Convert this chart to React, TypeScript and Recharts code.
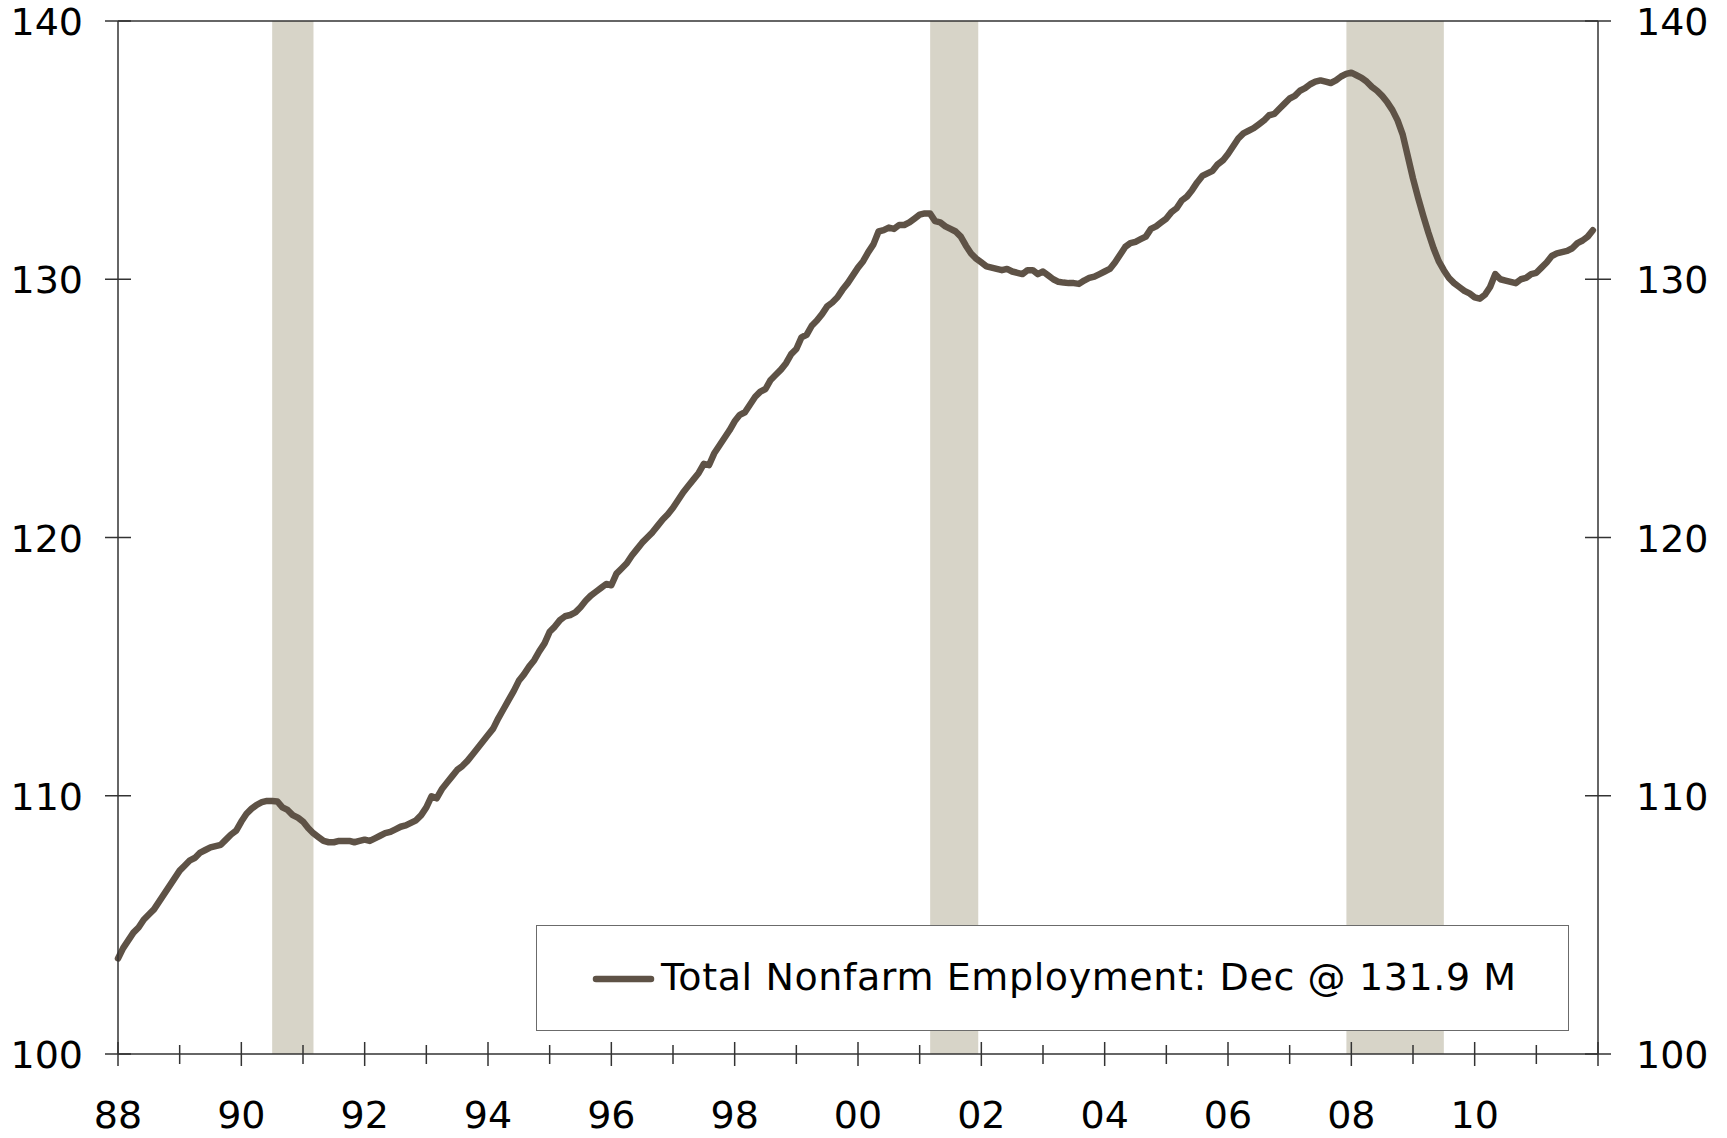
import React from "react";
import {
  Legend,
  Line,
  LineChart,
  ReferenceArea,
  ReferenceLine,
  XAxis,
  YAxis,
} from "recharts";

// Total nonfarm employment, millions, monthly Jan..Dec
const y1988 = [103.7, 104.1, 104.4, 104.7, 104.9, 105.2, 105.4, 105.6, 105.9, 106.2, 106.5, 106.8];
const y1989 = [107.1, 107.3, 107.5, 107.6, 107.8, 107.9, 108.0, 108.05, 108.1, 108.3, 108.5, 108.65];
const y1990 = [109.0, 109.3, 109.5, 109.65, 109.75, 109.8, 109.8, 109.78, 109.55, 109.45, 109.25, 109.15];
const y1991 = [109.0, 108.75, 108.55, 108.4, 108.25, 108.2, 108.2, 108.25, 108.25, 108.25, 108.2, 108.25];
const y1992 = [108.3, 108.25, 108.35, 108.45, 108.55, 108.6, 108.7, 108.8, 108.85, 108.95, 109.05, 109.25];
const y1993 = [109.55, 109.98, 109.9, 110.25, 110.5, 110.75, 111.0, 111.15, 111.35, 111.6, 111.85, 112.1];
const y1994 = [112.35, 112.6, 113.0, 113.35, 113.7, 114.05, 114.45, 114.7, 115.0, 115.25, 115.6, 115.9];
const y1995 = [116.35, 116.55, 116.8, 116.95, 117.0, 117.1, 117.3, 117.55, 117.75, 117.9, 118.05, 118.2];
const y1996 = [118.15, 118.6, 118.8, 119.0, 119.3, 119.55, 119.8, 120.0, 120.2, 120.45, 120.7, 120.9];
const y1997 = [121.15, 121.45, 121.75, 122.0, 122.25, 122.5, 122.85, 122.8, 123.25, 123.55, 123.85, 124.15];
const y1998 = [124.5, 124.75, 124.85, 125.15, 125.45, 125.65, 125.75, 126.1, 126.3, 126.5, 126.75, 127.1];
const y1999 = [127.3, 127.75, 127.85, 128.2, 128.4, 128.65, 128.95, 129.1, 129.3, 129.6, 129.85, 130.15];
const y2000 = [130.45, 130.7, 131.05, 131.35, 131.85, 131.9, 132.0, 131.95, 132.1, 132.1, 132.2, 132.35];
const y2001 = [132.5, 132.55, 132.55, 132.25, 132.2, 132.05, 131.95, 131.85, 131.65, 131.3, 131.0, 130.8];
const y2002 = [130.65, 130.5, 130.45, 130.4, 130.35, 130.4, 130.3, 130.25, 130.2, 130.35, 130.35, 130.2];
const y2003 = [130.3, 130.15, 130.0, 129.9, 129.87, 129.85, 129.85, 129.82, 129.95, 130.05, 130.1, 130.2];
const y2004 = [130.3, 130.4, 130.65, 130.95, 131.25, 131.4, 131.45, 131.55, 131.65, 131.95, 132.05, 132.2];
const y2005 = [132.35, 132.6, 132.75, 133.05, 133.2, 133.45, 133.75, 134.0, 134.1, 134.2, 134.45, 134.6];
const y2006 = [134.85, 135.15, 135.45, 135.65, 135.75, 135.85, 136.0, 136.15, 136.35, 136.4, 136.6, 136.8];
const y2007 = [137.0, 137.1, 137.3, 137.4, 137.55, 137.65, 137.7, 137.65, 137.6, 137.7, 137.85, 137.95];
const y2008 = [138.0, 137.9, 137.8, 137.65, 137.45, 137.3, 137.1, 136.85, 136.55, 136.15, 135.6, 134.75];
const y2009 = [133.9, 133.15, 132.45, 131.8, 131.2, 130.7, 130.35, 130.05, 129.85, 129.7, 129.55, 129.45];
const y2010 = [129.3, 129.25, 129.4, 129.7, 130.2, 130.0, 129.95, 129.9, 129.85, 130.0, 130.05, 130.2];
const y2011 = [130.25, 130.45, 130.65, 130.9, 131.0, 131.05, 131.1, 131.2, 131.4, 131.5, 131.65, 131.9];

const yearBlocks = [
  y1988, y1989, y1990, y1991, y1992, y1993, y1994, y1995, y1996, y1997, y1998, y1999,
  y2000, y2001, y2002, y2003, y2004, y2005, y2006, y2007, y2008, y2009, y2010, y2011,
];
const firstYear = 1988;

// recession periods (fractional years)
const recessionStarts = [1990.5, 2001.17, 2007.92];
const recessionEnds = [1991.17, 2001.95, 2009.5];

const yTicks = [100, 110, 120, 130, 140];
const xTicks = Array.from({ length: 25 }, (_, i) => 1988 + i);
const lastLabelYear = 2010;

const seriesName = "Total Nonfarm Employment: Dec @ 131.9 M";

const data = yearBlocks.flatMap((vals, yi) =>
  vals.map((v, m) => ({ t: firstYear + yi + m / 12, jobs: v }))
);

const LINE = "#5E5246";
const BAND = "#D7D4C8";
const AXIS = "#333333";
const FONT = "'DejaVu Sans', Verdana, sans-serif";
const FS = 38;

const XTick = (props: any) => {
  const { x, y, payload } = props;
  const yr = payload.value as number;
  const major = yr % 2 === 0;
  return (
    <g>
      <line
        x1={x}
        x2={x}
        y1={major ? y - 12 : y - 9}
        y2={major ? y + 12 : y + 10}
        stroke={AXIS}
        strokeWidth={1.5}
      />
      {major && yr <= lastLabelYear && (
        <text x={x} y={y + 74} textAnchor="middle" fontSize={FS} fontFamily={FONT} fill="#000">
          {String(yr % 100).padStart(2, "0")}
        </text>
      )}
    </g>
  );
};

const LeftTick = (props: any) => {
  const { x, y, payload } = props;
  return (
    <g>
      <line x1={x - 13} x2={x + 13} y1={y} y2={y} stroke={AXIS} strokeWidth={1.5} />
      <text x={x - 35} y={y + 14} textAnchor="end" fontSize={FS} fontFamily={FONT} fill="#000">
        {payload.value}
      </text>
    </g>
  );
};

const RightTick = (props: any) => {
  const { x, y, payload } = props;
  return (
    <g>
      <line x1={x - 13} x2={x + 13} y1={y} y2={y} stroke={AXIS} strokeWidth={1.5} />
      <text x={x + 38} y={y + 14} textAnchor="start" fontSize={FS} fontFamily={FONT} fill="#000">
        {payload.value}
      </text>
    </g>
  );
};

const LegendBox = () => (
  <div
    style={{
      width: "100%",
      height: "100%",
      boxSizing: "border-box",
      border: "1.5px solid #6b6b6b",
      background: "#fff",
      position: "relative",
      fontFamily: FONT,
      fontSize: FS,
      color: "#000",
    }}
  >
    <svg width={70} height={20} style={{ position: "absolute", left: 52, top: 43 }}>
      <line x1={7} x2={62} y1={10} y2={10} stroke={LINE} strokeWidth={6.5} strokeLinecap="round" />
    </svg>
    <span
      style={{
        position: "absolute",
        left: 124,
        top: 29,
        lineHeight: "44px",
        whiteSpace: "nowrap",
        letterSpacing: "0.6px",
      }}
    >
      {seriesName}
    </span>
  </div>
);

export default function App() {
  return (
    <div style={{ position: "absolute", left: 0, top: 0, background: "#fff" }}>
      <LineChart
        width={1727}
        height={1138}
        data={data}
        margin={{ top: 21, right: 0, bottom: 0, left: 0 }}
      >
        <XAxis
          dataKey="t"
          type="number"
          domain={[1988, 2012]}
          ticks={xTicks}
          interval={0}
          height={84}
          tickSize={0}
          tickMargin={0}
          tickLine={false}
          axisLine={{ stroke: AXIS, strokeWidth: 1.5 }}
          tick={<XTick />}
        />
        <YAxis
          yAxisId="left"
          domain={[100, 140]}
          ticks={yTicks}
          width={118}
          tickSize={0}
          tickMargin={0}
          tickLine={false}
          axisLine={{ stroke: AXIS, strokeWidth: 1.5 }}
          tick={<LeftTick />}
        />
        <YAxis
          yAxisId="right"
          orientation="right"
          domain={[100, 140]}
          ticks={yTicks}
          width={129}
          tickSize={0}
          tickMargin={0}
          tickLine={false}
          axisLine={{ stroke: AXIS, strokeWidth: 1.5 }}
          tick={<RightTick />}
        />
        <ReferenceLine yAxisId="left" y={140} stroke={AXIS} strokeWidth={1.5} />
        {recessionStarts.map((s, i) => (
          <ReferenceArea
            key={i}
            yAxisId="left"
            x1={s}
            x2={recessionEnds[i]}
            y1={100}
            y2={140}
            fill={BAND}
            fillOpacity={1}
            stroke="none"
          />
        ))}
        <Legend
          layout="vertical"
          align="center"
          verticalAlign="middle"
          content={<LegendBox />}
          wrapperStyle={{ position: "absolute", left: 536, top: 925, width: 1033, height: 106 }}
        />
        <Line
          yAxisId="right"
          type="linear"
          dataKey="jobs"
          stroke="none"
          legendType="none"
          dot={false}
          activeDot={false}
          isAnimationActive={false}
        />
        <Line
          yAxisId="left"
          type="linear"
          dataKey="jobs"
          name={seriesName}
          stroke={LINE}
          strokeWidth={6.5}
          strokeLinejoin="round"
          strokeLinecap="round"
          dot={false}
          activeDot={false}
          isAnimationActive={false}
        />
      </LineChart>
    </div>
  );
}
